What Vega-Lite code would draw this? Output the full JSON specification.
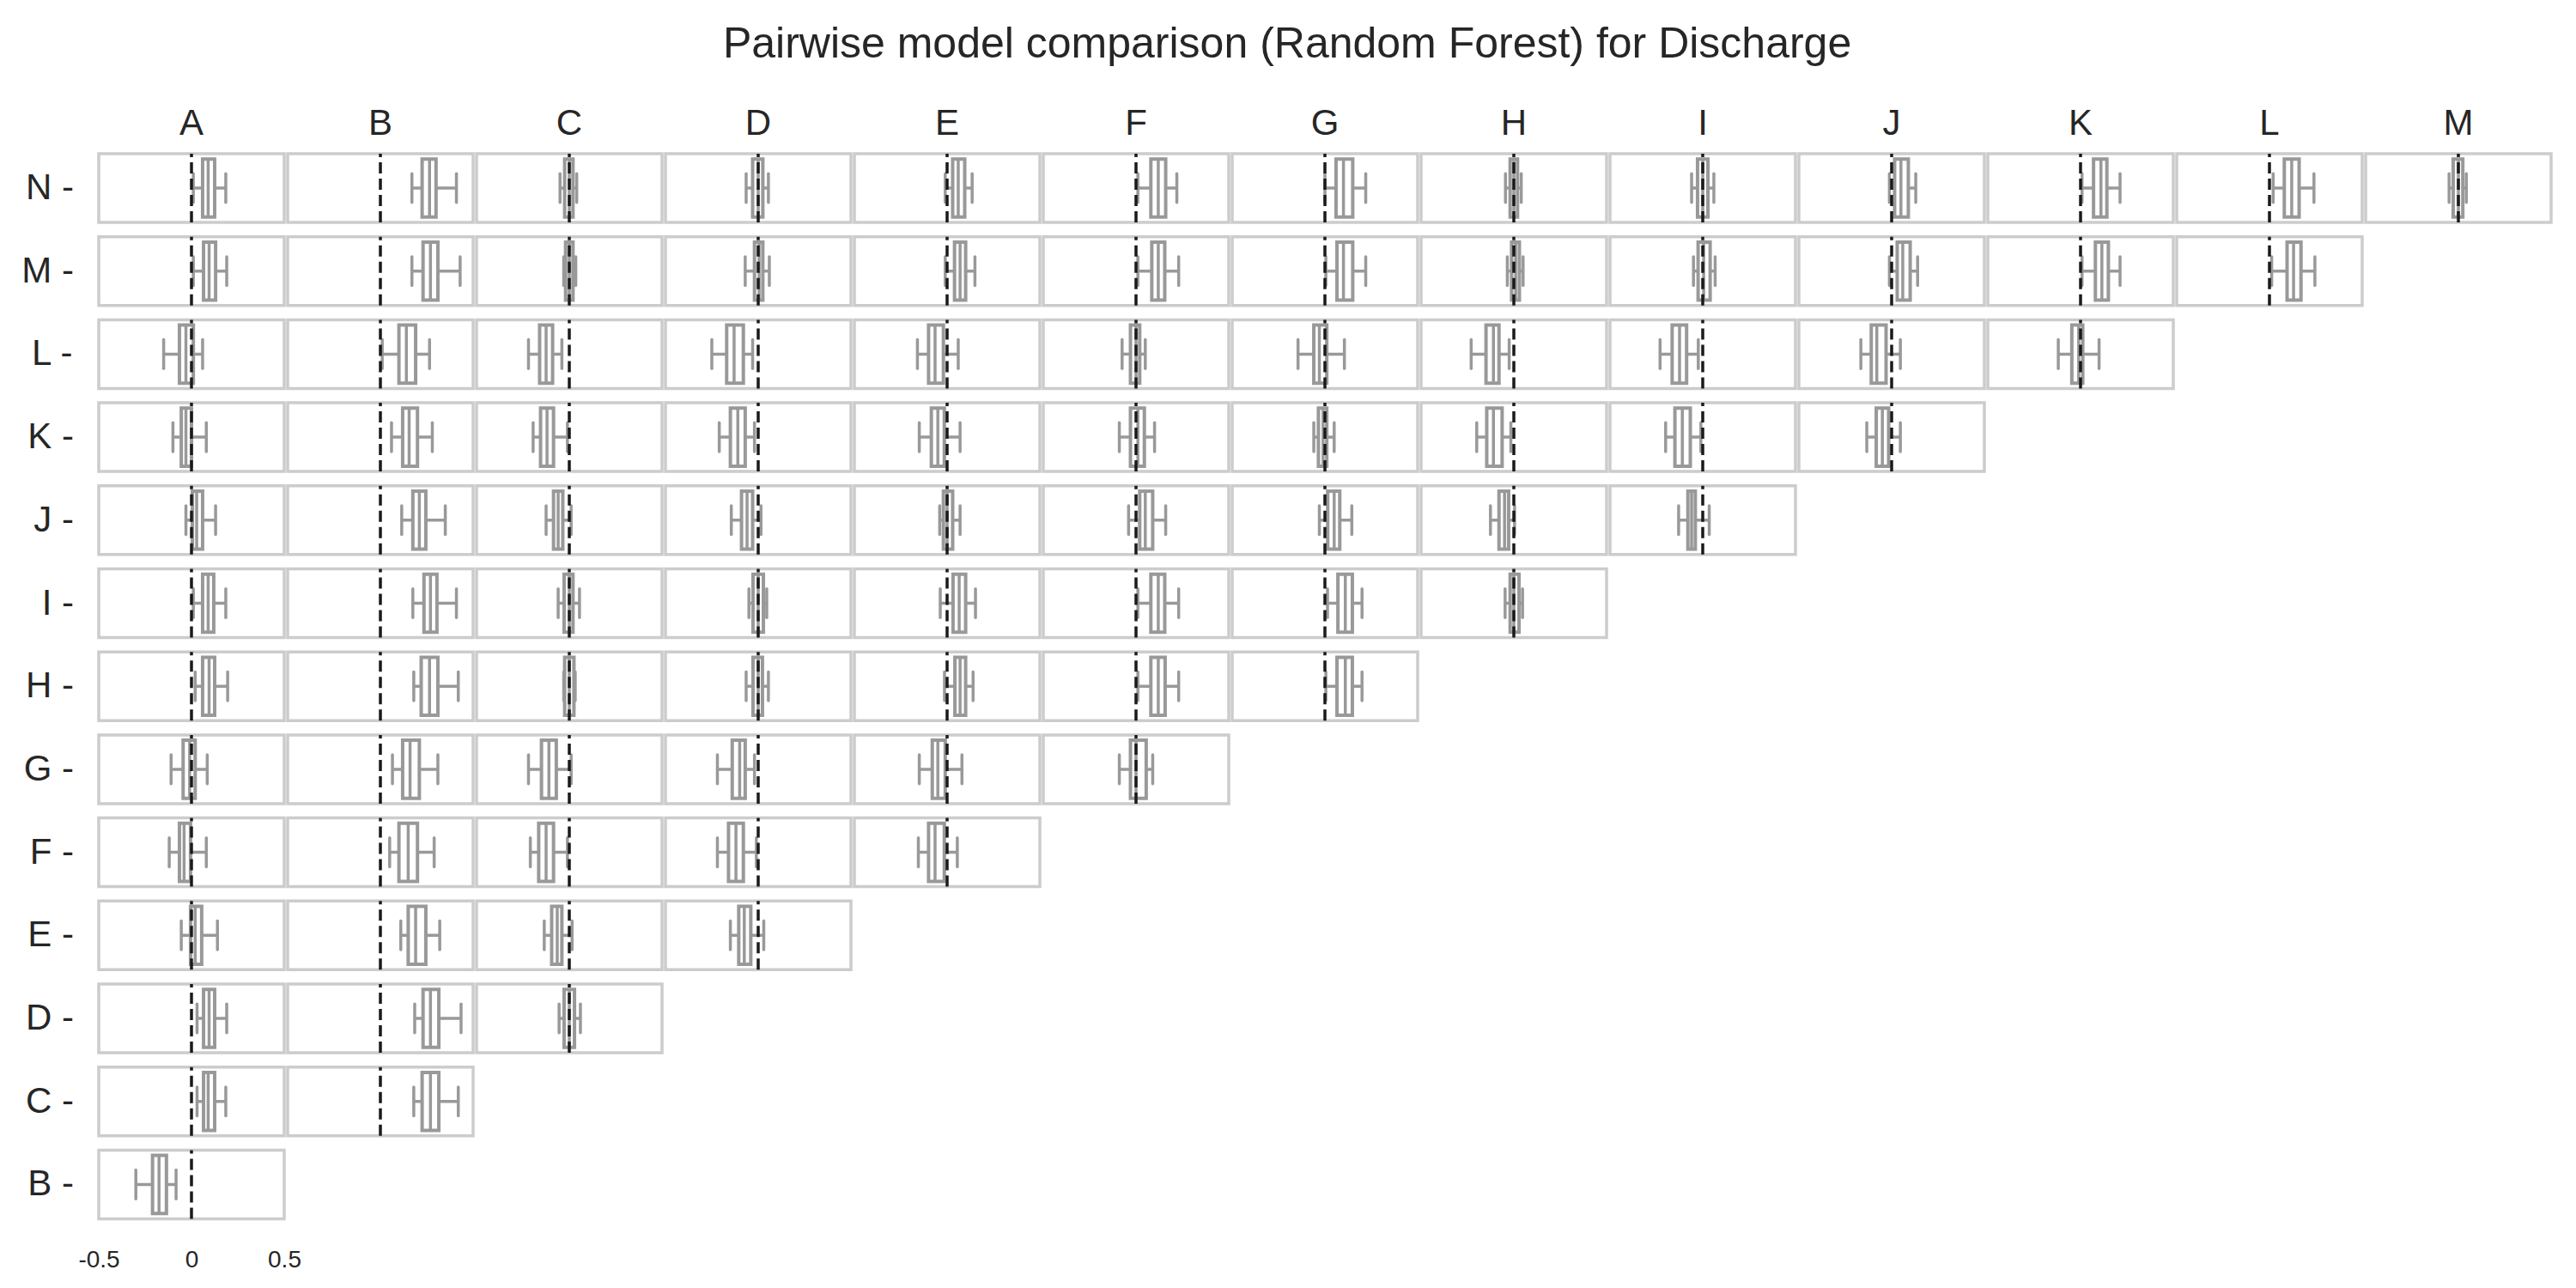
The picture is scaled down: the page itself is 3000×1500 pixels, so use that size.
{
  "$schema": "https://vega.github.io/schema/vega-lite/v6.json",
  "background": "white",
  "padding": {"left": 25, "top": 27, "right": 5, "bottom": 5},
  "title": {"text": "Pairwise model comparison (Random Forest) for Discharge", "fontSize": 50, "font": "Liberation Sans", "fontWeight": "normal", "color": "#262626", "anchor": "middle", "offset": 46},
  "config": {"view": {"stroke": null}, "font": "Liberation Sans"},
  "datasets": {
    "boxes": [
      {"r": "N", "c": "A", "lo": 0.01, "q1": 0.06, "md": 0.09, "q3": 0.125, "hi": 0.185},
      {"r": "N", "c": "B", "lo": 0.17, "q1": 0.225, "md": 0.265, "q3": 0.3, "hi": 0.41},
      {"r": "N", "c": "C", "lo": -0.05, "q1": -0.025, "md": 0.0, "q3": 0.02, "hi": 0.04},
      {"r": "N", "c": "D", "lo": -0.065, "q1": -0.03, "md": 0.0, "q3": 0.025, "hi": 0.055},
      {"r": "N", "c": "E", "lo": -0.01, "q1": 0.03, "md": 0.06, "q3": 0.095, "hi": 0.135},
      {"r": "N", "c": "F", "lo": 0.01, "q1": 0.08, "md": 0.12, "q3": 0.16, "hi": 0.22},
      {"r": "N", "c": "G", "lo": 0.0, "q1": 0.06, "md": 0.1, "q3": 0.15, "hi": 0.22},
      {"r": "N", "c": "H", "lo": -0.045, "q1": -0.02, "md": 0.0, "q3": 0.02, "hi": 0.04},
      {"r": "N", "c": "I", "lo": -0.06, "q1": -0.028, "md": 0.0, "q3": 0.028, "hi": 0.06},
      {"r": "N", "c": "J", "lo": -0.012, "q1": 0.016, "md": 0.05, "q3": 0.09, "hi": 0.13},
      {"r": "N", "c": "K", "lo": 0.008, "q1": 0.07, "md": 0.11, "q3": 0.142, "hi": 0.213},
      {"r": "N", "c": "L", "lo": 0.02, "q1": 0.08, "md": 0.12, "q3": 0.16, "hi": 0.24},
      {"r": "N", "c": "M", "lo": -0.05, "q1": -0.028, "md": 0.0, "q3": 0.024, "hi": 0.043},
      {"r": "M", "c": "A", "lo": 0.01, "q1": 0.065, "md": 0.095, "q3": 0.13, "hi": 0.19},
      {"r": "M", "c": "B", "lo": 0.17, "q1": 0.23, "md": 0.27, "q3": 0.31, "hi": 0.43},
      {"r": "M", "c": "C", "lo": -0.03, "q1": -0.02, "md": 0.0, "q3": 0.02, "hi": 0.035},
      {"r": "M", "c": "D", "lo": -0.07, "q1": -0.02, "md": 0.005, "q3": 0.025, "hi": 0.06},
      {"r": "M", "c": "E", "lo": -0.01, "q1": 0.04, "md": 0.07, "q3": 0.1, "hi": 0.15},
      {"r": "M", "c": "F", "lo": 0.01, "q1": 0.085, "md": 0.12, "q3": 0.155, "hi": 0.23},
      {"r": "M", "c": "G", "lo": 0.005, "q1": 0.065, "md": 0.1, "q3": 0.15, "hi": 0.22},
      {"r": "M", "c": "H", "lo": -0.035, "q1": -0.012, "md": 0.01, "q3": 0.03, "hi": 0.05},
      {"r": "M", "c": "I", "lo": -0.05, "q1": -0.025, "md": 0.005, "q3": 0.04, "hi": 0.067},
      {"r": "M", "c": "J", "lo": -0.012, "q1": 0.03, "md": 0.06, "q3": 0.1, "hi": 0.14},
      {"r": "M", "c": "K", "lo": 0.008, "q1": 0.08, "md": 0.115, "q3": 0.15, "hi": 0.213},
      {"r": "M", "c": "L", "lo": 0.012, "q1": 0.095, "md": 0.13, "q3": 0.17, "hi": 0.245},
      {"r": "M", "c": "M"},
      {"r": "L", "c": "A", "lo": -0.15, "q1": -0.065, "md": -0.03, "q3": 0.01, "hi": 0.06},
      {"r": "L", "c": "B", "lo": 0.01, "q1": 0.1, "md": 0.14, "q3": 0.19, "hi": 0.265},
      {"r": "L", "c": "C", "lo": -0.22, "q1": -0.16, "md": -0.125, "q3": -0.09, "hi": -0.04},
      {"r": "L", "c": "D", "lo": -0.25, "q1": -0.17, "md": -0.13, "q3": -0.08, "hi": -0.03},
      {"r": "L", "c": "E", "lo": -0.16, "q1": -0.1, "md": -0.065, "q3": -0.02, "hi": 0.06},
      {"r": "L", "c": "F", "lo": -0.075, "q1": -0.03, "md": 0.0, "q3": 0.02, "hi": 0.05},
      {"r": "L", "c": "G", "lo": -0.145, "q1": -0.06, "md": -0.03, "q3": 0.01, "hi": 0.105},
      {"r": "L", "c": "H", "lo": -0.23, "q1": -0.15, "md": -0.11, "q3": -0.08, "hi": -0.025},
      {"r": "L", "c": "I", "lo": -0.23, "q1": -0.165, "md": -0.125, "q3": -0.087, "hi": -0.024},
      {"r": "L", "c": "J", "lo": -0.166, "q1": -0.11, "md": -0.08, "q3": -0.03, "hi": 0.047},
      {"r": "L", "c": "K", "lo": -0.12, "q1": -0.047, "md": -0.01, "q3": 0.012, "hi": 0.1},
      {"r": "L", "c": "L"}, {"r": "L", "c": "M"},
      {"r": "K", "c": "A", "lo": -0.1, "q1": -0.055, "md": -0.03, "q3": 0.0, "hi": 0.08},
      {"r": "K", "c": "B", "lo": 0.06, "q1": 0.12, "md": 0.155, "q3": 0.2, "hi": 0.28},
      {"r": "K", "c": "C", "lo": -0.195, "q1": -0.155, "md": -0.12, "q3": -0.085, "hi": -0.01},
      {"r": "K", "c": "D", "lo": -0.21, "q1": -0.15, "md": -0.11, "q3": -0.07, "hi": -0.02},
      {"r": "K", "c": "E", "lo": -0.15, "q1": -0.085, "md": -0.05, "q3": -0.015, "hi": 0.07},
      {"r": "K", "c": "F", "lo": -0.09, "q1": -0.03, "md": 0.01, "q3": 0.045, "hi": 0.1},
      {"r": "K", "c": "G", "lo": -0.06, "q1": -0.035, "md": -0.01, "q3": 0.01, "hi": 0.05},
      {"r": "K", "c": "H", "lo": -0.2, "q1": -0.146, "md": -0.11, "q3": -0.063, "hi": -0.016},
      {"r": "K", "c": "I", "lo": -0.2, "q1": -0.15, "md": -0.11, "q3": -0.067, "hi": -0.01},
      {"r": "K", "c": "J", "lo": -0.134, "q1": -0.083, "md": -0.05, "q3": -0.016, "hi": 0.047},
      {"r": "K", "c": "K"}, {"r": "K", "c": "L"}, {"r": "K", "c": "M"},
      {"r": "J", "c": "A", "lo": -0.03, "q1": 0.005, "md": 0.028, "q3": 0.06, "hi": 0.13},
      {"r": "J", "c": "B", "lo": 0.115, "q1": 0.175, "md": 0.21, "q3": 0.245, "hi": 0.35},
      {"r": "J", "c": "C", "lo": -0.125, "q1": -0.085, "md": -0.06, "q3": -0.035, "hi": 0.01},
      {"r": "J", "c": "D", "lo": -0.145, "q1": -0.09, "md": -0.06, "q3": -0.03, "hi": 0.015},
      {"r": "J", "c": "E", "lo": -0.04, "q1": -0.02, "md": 0.0, "q3": 0.03, "hi": 0.07},
      {"r": "J", "c": "F", "lo": -0.04, "q1": 0.02, "md": 0.05, "q3": 0.09, "hi": 0.16},
      {"r": "J", "c": "G", "lo": -0.03, "q1": 0.015, "md": 0.05, "q3": 0.08, "hi": 0.145},
      {"r": "J", "c": "H", "lo": -0.126, "q1": -0.08, "md": -0.05, "q3": -0.028, "hi": 0.004},
      {"r": "J", "c": "I", "lo": -0.13, "q1": -0.08, "md": -0.06, "q3": -0.04, "hi": 0.035},
      {"r": "J", "c": "J"}, {"r": "J", "c": "K"}, {"r": "J", "c": "L"}, {"r": "J", "c": "M"},
      {"r": "I", "c": "A", "lo": 0.01, "q1": 0.06, "md": 0.09, "q3": 0.12, "hi": 0.185},
      {"r": "I", "c": "B", "lo": 0.175, "q1": 0.235, "md": 0.27, "q3": 0.305, "hi": 0.41},
      {"r": "I", "c": "C", "lo": -0.06, "q1": -0.028, "md": 0.0, "q3": 0.02, "hi": 0.055},
      {"r": "I", "c": "D", "lo": -0.05, "q1": -0.028, "md": 0.0, "q3": 0.028, "hi": 0.046},
      {"r": "I", "c": "E", "lo": -0.037, "q1": 0.032, "md": 0.065, "q3": 0.1, "hi": 0.153},
      {"r": "I", "c": "F", "lo": 0.01, "q1": 0.08, "md": 0.12, "q3": 0.155, "hi": 0.23},
      {"r": "I", "c": "G", "lo": 0.014, "q1": 0.07, "md": 0.11, "q3": 0.148, "hi": 0.2},
      {"r": "I", "c": "H", "lo": -0.047, "q1": -0.02, "md": 0.0, "q3": 0.028, "hi": 0.047},
      {"r": "I", "c": "I"}, {"r": "I", "c": "J"}, {"r": "I", "c": "K"}, {"r": "I", "c": "L"}, {"r": "I", "c": "M"},
      {"r": "H", "c": "A", "lo": 0.02, "q1": 0.06, "md": 0.095, "q3": 0.125, "hi": 0.195},
      {"r": "H", "c": "B", "lo": 0.18, "q1": 0.22, "md": 0.265, "q3": 0.31, "hi": 0.42},
      {"r": "H", "c": "C", "lo": -0.03, "q1": -0.025, "md": 0.0, "q3": 0.025, "hi": 0.032},
      {"r": "H", "c": "D", "lo": -0.065, "q1": -0.028, "md": 0.0, "q3": 0.023, "hi": 0.055},
      {"r": "H", "c": "E", "lo": -0.014, "q1": 0.042, "md": 0.07, "q3": 0.1, "hi": 0.14},
      {"r": "H", "c": "F", "lo": 0.01, "q1": 0.08, "md": 0.12, "q3": 0.157, "hi": 0.23},
      {"r": "H", "c": "G", "lo": 0.005, "q1": 0.065, "md": 0.11, "q3": 0.148, "hi": 0.2},
      {"r": "H", "c": "H"}, {"r": "H", "c": "I"}, {"r": "H", "c": "J"}, {"r": "H", "c": "K"}, {"r": "H", "c": "L"}, {"r": "H", "c": "M"},
      {"r": "G", "c": "A", "lo": -0.11, "q1": -0.045, "md": -0.01, "q3": 0.02, "hi": 0.085},
      {"r": "G", "c": "B", "lo": 0.065, "q1": 0.12, "md": 0.16, "q3": 0.21, "hi": 0.31},
      {"r": "G", "c": "C", "lo": -0.22, "q1": -0.15, "md": -0.11, "q3": -0.07, "hi": 0.01},
      {"r": "G", "c": "D", "lo": -0.22, "q1": -0.14, "md": -0.1, "q3": -0.07, "hi": -0.02},
      {"r": "G", "c": "E", "lo": -0.15, "q1": -0.08, "md": -0.05, "q3": -0.01, "hi": 0.08},
      {"r": "G", "c": "F", "lo": -0.09, "q1": -0.03, "md": 0.0, "q3": 0.055, "hi": 0.09},
      {"r": "G", "c": "G"}, {"r": "G", "c": "H"}, {"r": "G", "c": "I"}, {"r": "G", "c": "J"}, {"r": "G", "c": "K"}, {"r": "G", "c": "L"}, {"r": "G", "c": "M"},
      {"r": "F", "c": "A", "lo": -0.12, "q1": -0.065, "md": -0.04, "q3": -0.005, "hi": 0.08},
      {"r": "F", "c": "B", "lo": 0.05, "q1": 0.1, "md": 0.15, "q3": 0.2, "hi": 0.29},
      {"r": "F", "c": "C", "lo": -0.21, "q1": -0.165, "md": -0.125, "q3": -0.085, "hi": -0.01},
      {"r": "F", "c": "D", "lo": -0.22, "q1": -0.16, "md": -0.12, "q3": -0.08, "hi": -0.01},
      {"r": "F", "c": "E", "lo": -0.155, "q1": -0.1, "md": -0.065, "q3": -0.015, "hi": 0.055},
      {"r": "F", "c": "F"}, {"r": "F", "c": "G"}, {"r": "F", "c": "H"}, {"r": "F", "c": "I"}, {"r": "F", "c": "J"}, {"r": "F", "c": "K"}, {"r": "F", "c": "L"}, {"r": "F", "c": "M"},
      {"r": "E", "c": "A", "lo": -0.055, "q1": -0.005, "md": 0.02, "q3": 0.055, "hi": 0.14},
      {"r": "E", "c": "B", "lo": 0.11, "q1": 0.15, "md": 0.19, "q3": 0.245, "hi": 0.32},
      {"r": "E", "c": "C", "lo": -0.135, "q1": -0.095, "md": -0.065, "q3": -0.04, "hi": 0.015},
      {"r": "E", "c": "D", "lo": -0.15, "q1": -0.105, "md": -0.075, "q3": -0.04, "hi": 0.03},
      {"r": "E", "c": "E"}, {"r": "E", "c": "F"}, {"r": "E", "c": "G"}, {"r": "E", "c": "H"}, {"r": "E", "c": "I"}, {"r": "E", "c": "J"}, {"r": "E", "c": "K"}, {"r": "E", "c": "L"}, {"r": "E", "c": "M"},
      {"r": "D", "c": "A", "lo": 0.03, "q1": 0.065, "md": 0.095, "q3": 0.125, "hi": 0.19},
      {"r": "D", "c": "B", "lo": 0.185, "q1": 0.23, "md": 0.27, "q3": 0.315, "hi": 0.435},
      {"r": "D", "c": "C", "lo": -0.055, "q1": -0.028, "md": 0.0, "q3": 0.028, "hi": 0.06},
      {"r": "D", "c": "D"}, {"r": "D", "c": "E"}, {"r": "D", "c": "F"}, {"r": "D", "c": "G"}, {"r": "D", "c": "H"}, {"r": "D", "c": "I"}, {"r": "D", "c": "J"}, {"r": "D", "c": "K"}, {"r": "D", "c": "L"}, {"r": "D", "c": "M"},
      {"r": "C", "c": "A", "lo": 0.03, "q1": 0.065, "md": 0.09, "q3": 0.125, "hi": 0.185},
      {"r": "C", "c": "B", "lo": 0.18, "q1": 0.225, "md": 0.27, "q3": 0.315, "hi": 0.42},
      {"r": "C", "c": "C"}, {"r": "C", "c": "D"}, {"r": "C", "c": "E"}, {"r": "C", "c": "F"}, {"r": "C", "c": "G"}, {"r": "C", "c": "H"}, {"r": "C", "c": "I"}, {"r": "C", "c": "J"}, {"r": "C", "c": "K"}, {"r": "C", "c": "L"}, {"r": "C", "c": "M"},
      {"r": "B", "c": "A", "lo": -0.3, "q1": -0.21, "md": -0.175, "q3": -0.135, "hi": -0.083},
      {"r": "B", "c": "B"}, {"r": "B", "c": "C"}, {"r": "B", "c": "D"}, {"r": "B", "c": "E"}, {"r": "B", "c": "F"}, {"r": "B", "c": "G"}, {"r": "B", "c": "H"}, {"r": "B", "c": "I"}, {"r": "B", "c": "J"}, {"r": "B", "c": "K"}, {"r": "B", "c": "L"}, {"r": "B", "c": "M"}
    ]
  },
  "spacing": 10,
  "vconcat": [
    {
      "data": {"name": "boxes"},
      "facet": {
        "row": {"field": "r", "type": "nominal", "sort": ["N","M","L","K","J","I","H","G","F","E","D","C","B"], "title": null,
          "header": {"labelExpr": "datum.value + ' -'", "labelAngle": 0, "labelAlign": "left", "labelBaseline": "middle", "labelFontSize": 42, "labelFont": "Liberation Sans", "labelColor": "#262626", "labelPadding": 29}},
        "column": {"field": "c", "type": "nominal", "sort": ["A","B","C","D","E","F","G","H","I","J","K","L","M"], "title": null,
          "header": {"labelFontSize": 42, "labelFont": "Liberation Sans", "labelColor": "#262626", "labelPadding": 13, "labelOrient": "top"}}
      },
      "bounds": "flush",
      "spacing": {"row": 16.7, "column": 4},
      "spec": {
        "width": 216,
        "height": 80,
        "layer": [
          {"transform": [{"filter": "isValid(datum.md)"}],
           "mark": {"type": "rect", "fill": "white", "stroke": "#cccccc", "strokeWidth": 3.5},
           "encoding": {
             "x": {"datum": -0.5, "type": "quantitative", "scale": {"domain": [-0.5, 0.5], "nice": false, "zero": false}, "axis": null},
             "x2": {"datum": 0.5},
             "y": {"datum": -1, "type": "quantitative", "scale": {"domain": [-1, 1], "nice": false, "zero": false}, "axis": null},
             "y2": {"datum": 1}}},
          {"mark": {"type": "rule", "color": "#999999", "strokeWidth": 3.5},
           "encoding": {"x": {"field": "lo", "type": "quantitative"}, "x2": {"field": "hi"}, "y": {"datum": 0, "type": "quantitative"}}},
          {"mark": {"type": "rule", "color": "#999999", "strokeWidth": 3.5, "strokeCap": "round"},
           "encoding": {"x": {"field": "lo", "type": "quantitative"}, "y": {"datum": -0.42, "type": "quantitative"}, "y2": {"datum": 0.42}}},
          {"mark": {"type": "rule", "color": "#999999", "strokeWidth": 3.5, "strokeCap": "round"},
           "encoding": {"x": {"field": "hi", "type": "quantitative"}, "y": {"datum": -0.42, "type": "quantitative"}, "y2": {"datum": 0.42}}},
          {"mark": {"type": "rect", "fill": "white", "stroke": "#999999", "strokeWidth": 4},
           "encoding": {"x": {"field": "q1", "type": "quantitative"}, "x2": {"field": "q3"}, "y": {"datum": -0.845, "type": "quantitative"}, "y2": {"datum": 0.845}}},
          {"mark": {"type": "rule", "color": "#999999", "strokeWidth": 3.5},
           "encoding": {"x": {"field": "md", "type": "quantitative"}, "y": {"datum": -0.845, "type": "quantitative"}, "y2": {"datum": 0.845}}},
          {"transform": [{"filter": "isValid(datum.md)"}],
           "mark": {"type": "rule", "color": "#1a1a1a", "strokeWidth": 3.5, "strokeDash": [13, 6]},
           "encoding": {"x": {"datum": 0, "type": "quantitative"}, "y": {"datum": -1, "type": "quantitative"}, "y2": {"datum": 1}}}
        ]
      }
    },
    {
      "data": {"name": "boxes"},
      "transform": [{"filter": "datum.r == 'B' && isValid(datum.md)"}],
      "facet": {
        "row": {"field": "r", "type": "nominal", "title": null,
          "header": {"labelExpr": "'M -'", "labelAngle": 0, "labelAlign": "left", "labelBaseline": "top", "labelFontSize": 42, "labelFont": "Liberation Sans", "labelColor": "transparent", "labelPadding": 29}}
      },
      "spec": {
        "width": 216,
        "height": 1,
        "mark": {"type": "point", "opacity": 0},
        "encoding": {
          "x": {"field": "md", "type": "quantitative", "scale": {"domain": [-0.5, 0.5], "nice": false, "zero": false},
            "axis": {"values": [-0.5, 0, 0.5], "labelExpr": "toString(datum.value)", "labelFlush": false, "domain": false, "ticks": false, "grid": false, "labelFontSize": 28, "labelFont": "Liberation Sans", "labelColor": "#262626", "labelPadding": 14, "title": null}}
        }
      }
    }
  ]
}
